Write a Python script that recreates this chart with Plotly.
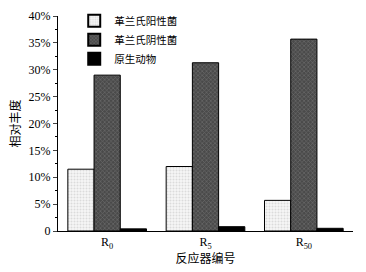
import plotly.graph_objects as go

categories = ["R<sub>0</sub>", "R<sub>5</sub>", "R<sub>50</sub>"]
gram_pos = [11.5, 12.0, 5.7]
gram_neg = [29.0, 31.3, 35.7]
protozoa = [0.4, 0.8, 0.5]
series_names = ["革兰氏阳性菌", "革兰氏阴性菌", "原生动物"]
y_tickvals = [0, 5, 10, 15, 20, 25, 30, 35, 40]
y_ticktext = ["0", "5%", "10%", "15%", "20%", "25%", "30%", "35%", "40%"]

font_fam = "'Liberation Serif', 'Times New Roman', 'Noto Sans CJK SC', serif"

fig = go.Figure()
fig.add_trace(go.Bar(
    x=categories, y=gram_pos, name=series_names[0],
    marker=dict(color="white", line=dict(color="black", width=1),
                pattern=dict(shape=".", fgcolor="#c0c0c0", bgcolor="#f6f6f6", size=3, solidity=0.35)),
))
fig.add_trace(go.Bar(
    x=categories, y=gram_neg, name=series_names[1],
    marker=dict(color="#555555", line=dict(color="black", width=1),
                pattern=dict(shape="x", fgcolor="#8a8a8a", bgcolor="#4a4a4a", size=3, solidity=0.4)),
))
fig.add_trace(go.Bar(
    x=categories, y=protozoa, name=series_names[2],
    marker=dict(color="black", line=dict(color="black", width=1)),
))

# page body has an 8px default margin, so the figure is sized to fit the window
fig.update_layout(
    width=358, height=264,
    margin=dict(l=50, r=13, t=8, b=41, autoexpand=False),
    paper_bgcolor="white", plot_bgcolor="white",
    barmode="group", bargap=0.2, bargroupgap=0,
    font=dict(family=font_fam, size=12, color="black"),
    showlegend=True,
    legend=dict(x=0.055, y=1.045, xanchor="left", yanchor="top",
                bgcolor="rgba(0,0,0,0)", font=dict(size=10.5, family=font_fam),
                tracegroupgap=0, itemsizing="constant"),
    xaxis=dict(showline=True, linecolor="black", linewidth=1, ticks="",
               range=[-0.5, 2.5], tickfont=dict(size=12), automargin=False,
               title=dict(text="反应器编号", font=dict(size=12), standoff=2)),
    yaxis=dict(showline=True, linecolor="black", linewidth=1, range=[0, 40],
               tickvals=y_tickvals, ticktext=y_ticktext, ticks="outside", ticklen=4,
               showgrid=False, zeroline=False, tickfont=dict(size=12), automargin=False,
               minor=dict(ticks="outside", ticklen=2, dtick=2.5, tickcolor="black"),
               title=dict(text="相对丰度", font=dict(size=12), standoff=8)),
)
fig.write_html("out.html")
